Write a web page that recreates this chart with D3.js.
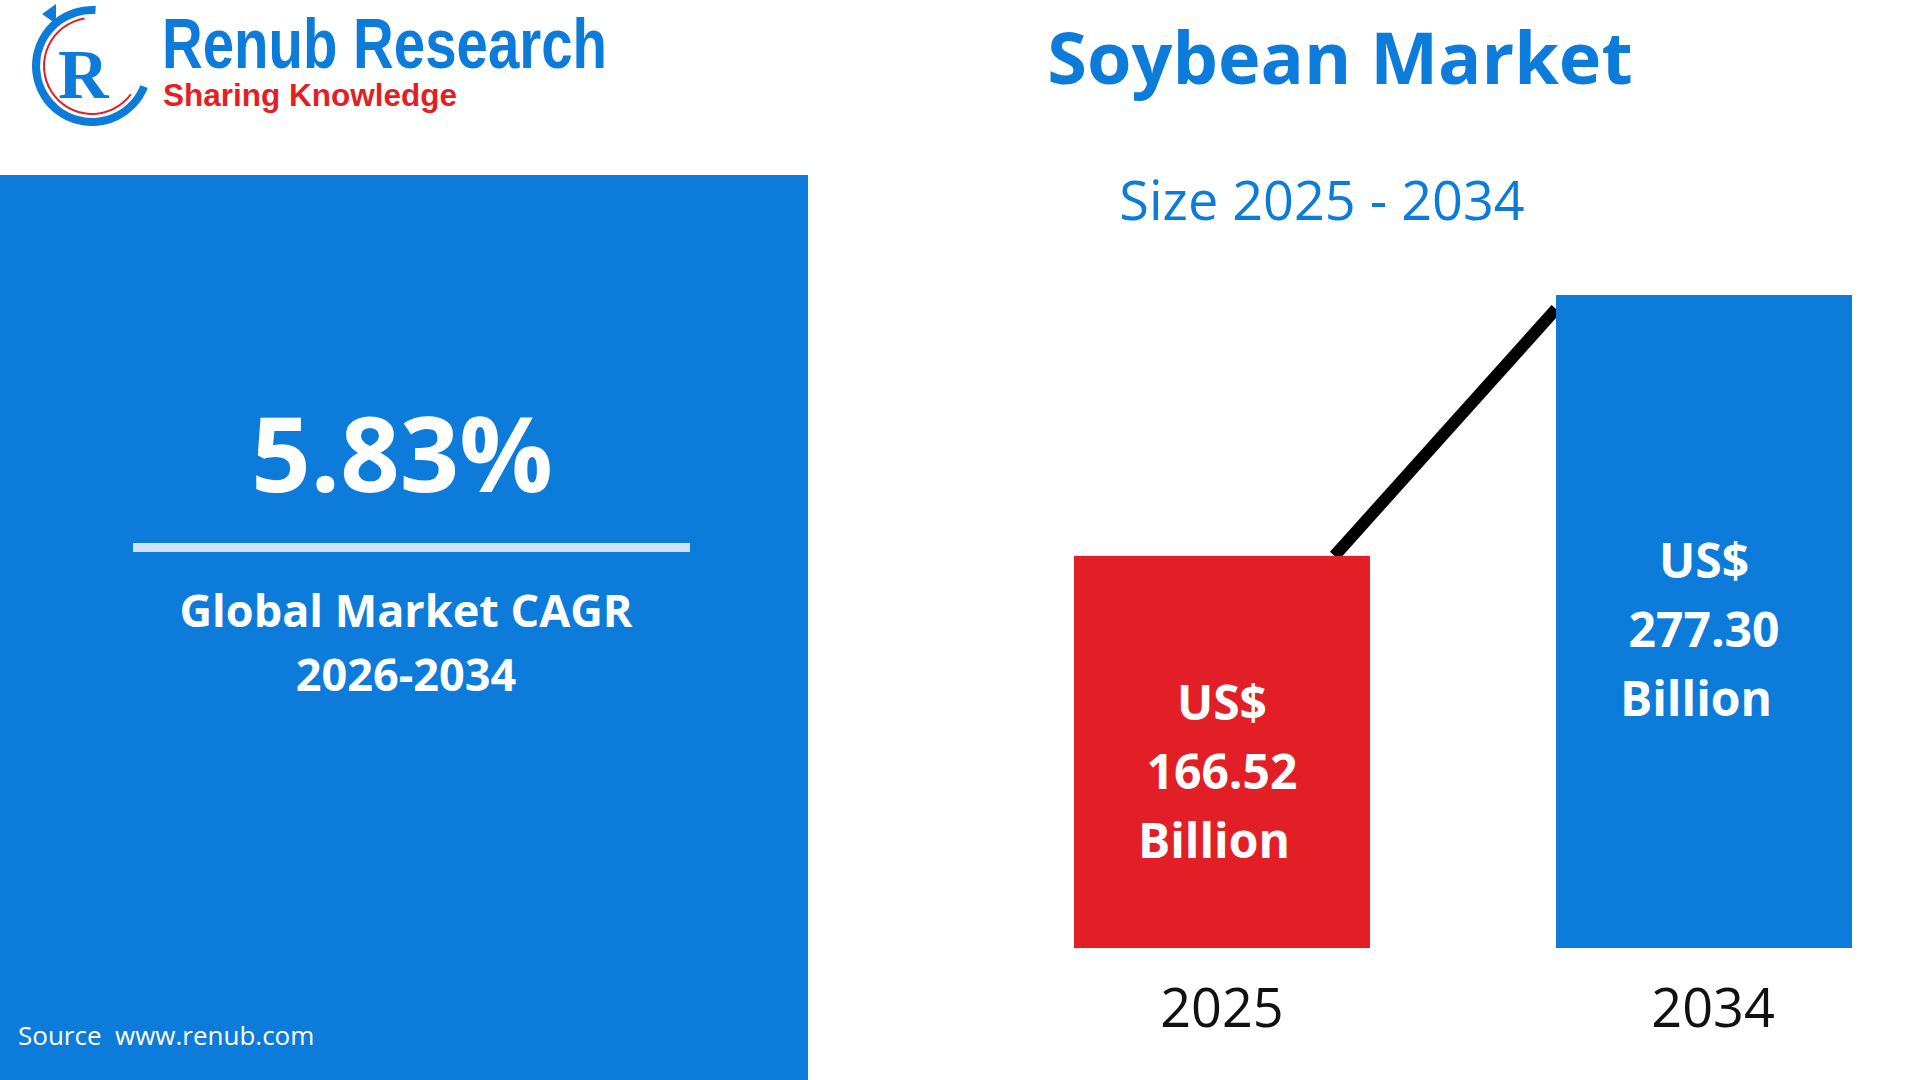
<!DOCTYPE html>
<html><head><meta charset="utf-8">
<script src="https://cdn.jsdelivr.net/npm/d3@7"></script>
<style>body{margin:0;background:#fff}svg{display:block}</style>
</head><body>
<script>
const years = ["2025", "2034"];
const values = [166.52, 277.30];
const barLabels = [["US$", "166.52", "Billion"], ["US$", "277.30", "Billion"]];
const barColors = ["#e21f26", "#0c7bd9"];
const cagr = "5.83%";

const W = 1920, H = 1080, blue = "#0c7bd9";
const svg = d3.select("body").append("svg").attr("width", W).attr("height", H);

// left panel
svg.append("rect").attr("x", 0).attr("y", 175).attr("width", 808).attr("height", 905).attr("fill", blue);
svg.append("text").attr("x", 402).attr("y", 492).attr("text-anchor", "middle")
  .attr("font-family", "Open Sans").attr("font-weight", 700).attr("font-size", 104).attr("fill", "#fff").text(cagr);
svg.append("rect").attr("x", 133).attr("y", 543).attr("width", 557).attr("height", 9).attr("fill", "#cfe3f7");
svg.append("text").attr("x", 406).attr("y", 627).attr("text-anchor", "middle")
  .attr("font-family", "Open Sans").attr("font-weight", 700).attr("font-size", 45).attr("fill", "#fff").text("Global Market CAGR");
svg.append("text").attr("x", 406).attr("y", 691).attr("text-anchor", "middle")
  .attr("font-family", "Open Sans").attr("font-weight", 700).attr("font-size", 45).attr("fill", "#fff").text("2026-2034");
svg.append("text").attr("x", 18).attr("y", 1045)
  .attr("font-family", "Open Sans").attr("font-size", 26).attr("fill", "#fff").attr("xml:space", "preserve").text("Source  www.renub.com");

// logo
const lg = svg.append("g");
lg.append("path").attr("d", d3.arc()({innerRadius: 52, outerRadius: 60, startAngle: Math.PI * 0.62, endAngle: Math.PI * 2.02}))
  .attr("transform", "translate(92,66)").attr("fill", blue);
lg.append("path").attr("d", d3.arc()({innerRadius: 47, outerRadius: 49, startAngle: Math.PI * 0.7, endAngle: Math.PI * 1.95}))
  .attr("transform", "translate(92,66)").attr("fill", "#e21f26");
lg.append("path").attr("d", "M42 14 L56 4 L56 24 Z").attr("fill", blue);
lg.append("text").attr("x", 58).attr("y", 98).attr("font-family", "Liberation Serif").attr("font-weight", 700)
  .attr("font-size", 70).attr("fill", blue).text("R");
lg.append("text").attr("x", 162).attr("y", 68).attr("font-family", "Liberation Sans Narrow, Liberation Sans").attr("font-weight", 700)
  .attr("font-size", 70).attr("fill", blue).attr("textLength", 445).attr("lengthAdjust", "spacingAndGlyphs").text("Renub Research");
lg.append("text").attr("x", 163).attr("y", 106).attr("font-family", "Liberation Sans Narrow, Liberation Sans").attr("font-weight", 700)
  .attr("font-size", 32).attr("fill", "#e21f26").attr("textLength", 294).attr("lengthAdjust", "spacingAndGlyphs").text("Sharing Knowledge");

// titles
svg.append("text").attr("x", 1340).attr("y", 84).attr("text-anchor", "middle")
  .attr("font-family", "Open Sans").attr("font-weight", 700).attr("font-size", 72).attr("fill", blue).text("Soybean Market");
svg.append("text").attr("x", 1322).attr("y", 220).attr("text-anchor", "middle")
  .attr("font-family", "Open Sans").attr("font-size", 54).attr("fill", blue).text("Size 2025 - 2034");

// bars
const x = d3.scaleBand().domain(years).range([1074, 1852]).paddingInner(0.386);
const y = d3.scaleLinear().domain([0, 277.30]).range([948, 295]);

svg.append("line").attr("x1", x(years[0]) + x.bandwidth() * 0.88).attr("y1", y(values[0]))
  .attr("x2", x(years[1])).attr("y2", y(values[1]) + 14).attr("stroke", "#000").attr("stroke-width", 12);

svg.selectAll(".bar").data(values).join("rect")
  .attr("x", (d, i) => x(years[i])).attr("y", d => y(d)).attr("width", x.bandwidth())
  .attr("height", d => y(0) - y(d)).attr("fill", (d, i) => barColors[i]);

const labelTop = [720, 578];
barLabels.forEach((lines, i) => {
  lines.forEach((t, j) => {
    svg.append("text").attr("x", x(years[i]) + x.bandwidth() / 2 + (j === 2 ? -8 : 0)).attr("y", labelTop[i] + j * 69)
      .attr("text-anchor", "middle").attr("font-family", "Open Sans").attr("font-weight", 700)
      .attr("font-size", 48).attr("fill", "#fff").text(t);
  });
});

svg.selectAll(".yr").data(years).join("text")
  .attr("x", (d, i) => x(d) + x.bandwidth() / 2 + (i ? 9 : 0)).attr("y", 1027).attr("text-anchor", "middle")
  .attr("font-family", "Open Sans").attr("font-size", 54).attr("fill", "#111").text(d => d);
</script>
</body></html>
